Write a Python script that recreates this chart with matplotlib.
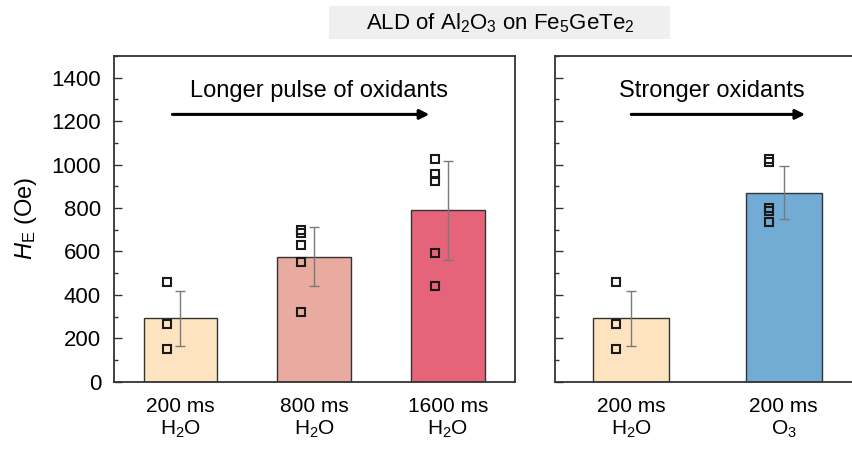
import matplotlib.pyplot as plt
from matplotlib.patches import Rectangle
from matplotlib.ticker import MultipleLocator

plt.rcParams["font.family"] = ["Liberation Sans", "DejaVu Sans"]
plt.rcParams["mathtext.fontset"] = "custom"
plt.rcParams["mathtext.rm"] = "Liberation Sans"
plt.rcParams["mathtext.it"] = "Liberation Sans:italic"

# pulse-length series (H2O, 200/800/1600 ms)
pulse_labels = ["200 ms\nH$_2$O", "800 ms\nH$_2$O", "1600 ms\nH$_2$O"]
pulse_mean = [293, 576, 789]
pulse_std = [127, 137, 227]
pulse_points = [
    [457, 268, 150],
    [697, 685, 629, 549, 323],
    [1026, 958, 923, 595, 443],
]
pulse_colors = ["#fde3bf", "#e9aaa0", "#e5647a"]

# oxidant series (200 ms H2O vs 200 ms O3)
oxid_labels = ["200 ms\nH$_2$O", "200 ms\nO$_3$"]
oxid_mean = [293, 871]
oxid_std = [127, 122]
oxid_points = [
    [457, 268, 150],
    [1025, 1010, 800, 785, 734],
]
oxid_colors = ["#fde3bf", "#72abd4"]

W, H = 852, 450
fig = plt.figure(figsize=(W / 100, H / 100), dpi=100)
ax1 = fig.add_axes([113.5 / W, 68.3 / H, 401.5 / W, 325.7 / H])
ax2 = fig.add_axes([555 / W, 68.3 / H, 305 / W, 325.7 / H])


def draw_panel(ax, labels, mean, std, points, colors):
    x = list(range(len(labels)))
    ax.bar(x, mean, width=0.55 if len(labels) == 3 else 0.5, color=colors,
           edgecolor="#333333", linewidth=1.0, zorder=2)
    ax.errorbar(x, mean, yerr=std, fmt="none", ecolor="#7a7a7a",
                elinewidth=1.0, capsize=3.5, capthick=1.0, zorder=3)
    for xi, pts in zip(x, points):
        ax.plot([xi - 0.1] * len(pts), pts, ls="none", marker="s", ms=6,
                mfc="none", mec="#1a1a1a", mew=1.5, zorder=4)
    ax.set_xlim(-0.5, len(labels) - 0.5)
    ax.set_ylim(0, 1500)
    ax.set_xticks(x)
    ax.set_xticklabels(labels, fontsize=15, linespacing=1.2)
    ax.yaxis.set_major_locator(MultipleLocator(200))
    ax.yaxis.set_minor_locator(MultipleLocator(100))
    ax.tick_params(axis="y", which="major", direction="in", length=6,
                   width=1.0, labelsize=16, pad=9, colors="#333333",
                   labelcolor="black")
    ax.tick_params(axis="y", which="minor", direction="in", length=3,
                   width=1.0, colors="#333333")
    ax.tick_params(axis="x", length=0, pad=11)
    for sp in ax.spines.values():
        sp.set_linewidth(1.3)
        sp.set_color("#333333")


draw_panel(ax1, pulse_labels, pulse_mean, pulse_std, pulse_points, pulse_colors)
draw_panel(ax2, oxid_labels, oxid_mean, oxid_std, oxid_points, oxid_colors)
ax2.tick_params(axis="y", labelleft=False)

ax1.set_ylabel(r"$H_\mathrm{E}$ (Oe)", fontsize=17)
ax1.yaxis.set_label_coords(-0.185, 0.5)

arrow = dict(arrowstyle="-|>", lw=2.2, color="black", mutation_scale=14,
             shrinkA=0, shrinkB=0)
ax1.annotate("", xy=(1.86, 1231), xytext=(-0.06, 1231), arrowprops=arrow)
ax1.text(1.035, 1339, "Longer pulse of oxidants", ha="center", va="center",
         fontsize=17)
ax2.annotate("", xy=(1.14, 1231), xytext=(0.0, 1231), arrowprops=arrow)
ax2.text(0.53, 1339, "Stronger oxidants", ha="center", va="center",
         fontsize=17)

# header box
fig.patches.append(Rectangle((329 / W, 1 - 39 / H), 341 / W, 33 / H,
                             transform=fig.transFigure, facecolor="#efefef",
                             edgecolor="none", zorder=0))
fig.text(500 / W, 1 - 23 / H, "ALD of Al$_2$O$_3$ on Fe$_5$GeTe$_2$",
         ha="center", va="center", fontsize=16)

fig.savefig("out.png", dpi=100)
